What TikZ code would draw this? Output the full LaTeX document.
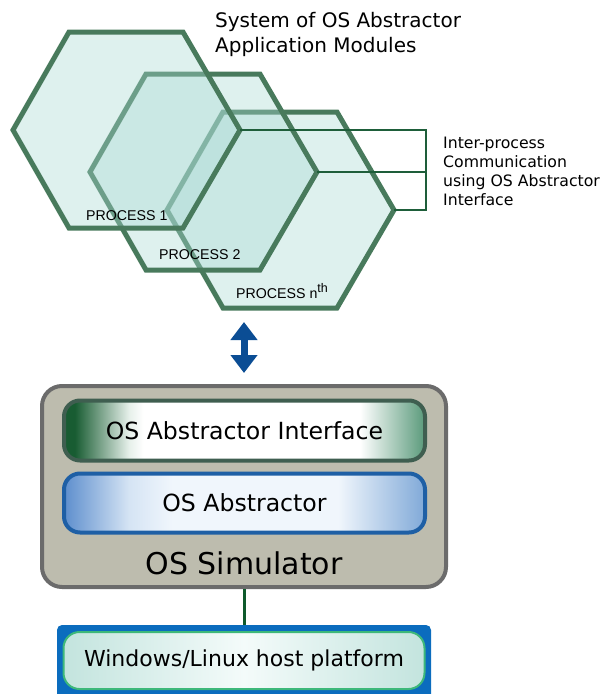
\documentclass[tikz,border=0pt]{standalone}
\usepackage{fontspec}
\setmainfont{DejaVu Sans}
\newfontfamily\helv{Liberation Sans}
\usetikzlibrary{arrows.meta}
\definecolor{hexline}{HTML}{487A5C}
\definecolor{hexfillc}{HTML}{A9D9D3}
\definecolor{linkc}{HTML}{1E5E3A}
\definecolor{arrowc}{HTML}{0B4D94}
\definecolor{simfill}{HTML}{BDBCAE}
\definecolor{simline}{HTML}{6B6B6B}
\definecolor{ifline}{HTML}{3F5E50}
\definecolor{ifdark}{HTML}{185C32}
\definecolor{iflight}{HTML}{E6F0EA}
\definecolor{ifright}{HTML}{5A9A7B}
\definecolor{abline}{HTML}{1E5FA5}
\definecolor{ableft}{HTML}{5D8ECD}
\definecolor{abmid}{HTML}{D5E4F4}
\definecolor{ablight}{HTML}{F0F6FC}
\definecolor{abright}{HTML}{80A9D8}
\definecolor{platblue}{HTML}{0B6CBE}
\definecolor{platline}{HTML}{3DB87A}
\definecolor{platedge}{HTML}{C3E4DE}
\definecolor{platmid}{HTML}{F4FBFA}
\definecolor{conn}{HTML}{0F5A2C}
\pgfdeclarehorizontalshading{ifshade}{100bp}{color(0bp)=(ifdark); color(26.5bp)=(ifdark); color(34bp)=(iflight); color(36bp)=(white); color(66bp)=(white); color(75bp)=(ifright); color(100bp)=(ifright)}
\pgfdeclarehorizontalshading{abshade}{100bp}{color(0bp)=(ableft); color(25bp)=(ableft); color(34bp)=(abmid); color(40bp)=(ablight); color(63bp)=(ablight); color(75bp)=(abright); color(100bp)=(abright)}
\pgfdeclarehorizontalshading{platshade}{100bp}{color(0bp)=(platedge); color(25bp)=(platedge); color(50bp)=(platmid); color(75bp)=(platedge); color(100bp)=(platedge)}
\tikzset{
  hexshape/.style={draw=hexline, line width=5pt, fill=hexfillc, fill opacity=0.38},
  ipc/.style={draw=linkc, line width=1.8pt},
  dblarrow/.style={draw=arrowc, line width=7pt, {Triangle[width=26pt,length=18pt]}-{Triangle[width=26pt,length=18pt]}},
  simbox/.style={draw=simline, line width=4pt, fill=simfill, rounded corners=20pt, minimum width=404pt, minimum height=201pt, inner sep=0pt},
  ifbox/.style={draw=ifline, line width=4pt, shading=ifshade, rounded corners=16pt, minimum width=361pt, minimum height=60pt, inner sep=0pt, font=\fontsize{23.6}{28}\selectfont},
  abbox/.style={draw=abline, line width=4pt, shading=abshade, rounded corners=16pt, minimum width=361pt, minimum height=59pt, inner sep=0pt, font=\fontsize{23.6}{28}\selectfont},
  simtext/.style={inner sep=0pt, font=\fontsize{30}{36}\selectfont},
  platouter/.style={fill=platblue, rounded corners=5pt, minimum width=374pt, minimum height=80pt, inner sep=0pt},
  platinner/.style={draw=platline, line width=2pt, shading=platshade, rounded corners=16pt, minimum width=361pt, minimum height=57pt, inner sep=0pt, font=\fontsize{22}{26}\selectfont},
  connline/.style={draw=conn, line width=3pt},
  titletext/.style={anchor=base west, inner sep=0pt, font=\fontsize{20}{24}\selectfont},
  ipctext/.style={anchor=base west, inner sep=0pt, font=\fontsize{15.7}{19}\selectfont},
  proctext/.style={anchor=base west, inner sep=0pt, font=\helv\fontsize{14.2}{17}\selectfont}
}
\begin{document}
\begin{tikzpicture}[x=1pt,y=1pt]
\useasboundingbox (0,0) rectangle (606,-694);
% hexagons (back to front)
\draw[hexshape] (223,-112) -- (337,-112) -- (394,-210) -- (337,-308) -- (223,-308) -- (167,-210) -- cycle;
\draw[hexshape] (146,-74) -- (260,-74) -- (317,-172) -- (260,-270) -- (146,-270) -- (90,-172) -- cycle;
\draw[hexshape] (69,-32) -- (183,-32) -- (240,-130) -- (183,-228) -- (69,-228) -- (13,-130) -- cycle;
\coordinate (h1r) at (240,-130);
\coordinate (h2r) at (317,-172);
\coordinate (h3r) at (394,-210);
\coordinate (b1) at (426,-130);
\coordinate (b2) at (426,-172);
\coordinate (b3) at (426,-210);
\draw[ipc] (h1r) -- (b1);
\draw[ipc] (h2r) -- (b2);
\draw[ipc] (h3r) -- (b3);
\draw[ipc, line cap=rect] (b1) -- (b3);
% labels
\node[proctext] (p1) at (86,-220) {PROCESS 1};
\node[proctext] (p2) at (159,-259) {PROCESS 2};
\node[proctext] (p3) at (236,-298) {PROCESS n\raisebox{6pt}{\fontsize{12.5}{13}\selectfont th}};
\node[titletext] (t1) at (215,-27) {System of OS Abstractor};
\node[titletext] (t2) at (215,-52) {Application Modules};
\node[ipctext] (i1) at (443,-148) {Inter-process};
\node[ipctext] (i2) at (443,-167) {Communication};
\node[ipctext] (i3) at (443,-186) {using OS Abstractor};
\node[ipctext] (i4) at (443,-205) {Interface};
% arrow
\coordinate (arT) at (244,-322);
\coordinate (arB) at (244,-373);
\draw[dblarrow] (arT) -- (arB);
% simulator
\node[simbox] (sim) at (244,-486.5) {};
\node[ifbox] (ifc) at (244.5,-430.5) {OS Abstractor Interface};
\node[abbox] (abs) at (244.5,-503) {OS Abstractor};
\node[simtext] (simlbl) at (244,-563) {OS Simulator};
% platform
\node[platouter] (platout) at (244,-665) {};
\node[platinner] (plat) at (244,-660.5) {Windows/Linux host platform};
\draw[connline] (sim.south) -- (platout.north);
\end{tikzpicture}
\end{document}
